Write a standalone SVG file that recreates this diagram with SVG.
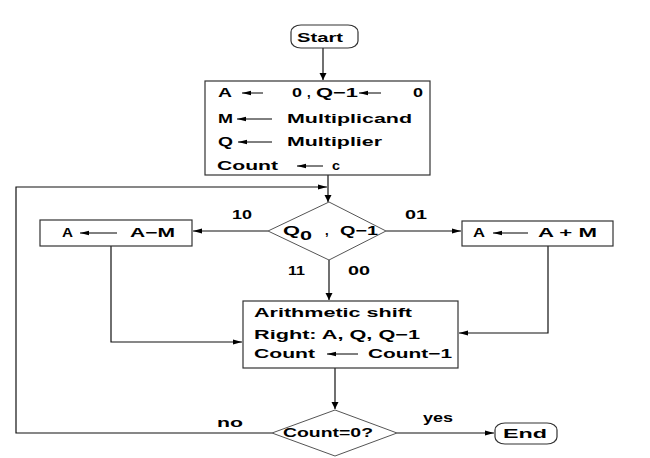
<svg xmlns="http://www.w3.org/2000/svg" width="650" height="458" viewBox="0 0 650 458">
<defs>
<marker id="mh" markerUnits="userSpaceOnUse" markerWidth="10" markerHeight="6" refX="9" refY="3" orient="auto"><path d="M0,0.5 L9,3 L0,5.5 z" fill="#000"/></marker>
<marker id="mv" markerUnits="userSpaceOnUse" markerWidth="8" markerHeight="8" refX="7" refY="3.5" orient="auto"><path d="M0,0 L7,3.5 L0,7 z" fill="#000"/></marker>
<marker id="mt" markerUnits="userSpaceOnUse" markerWidth="10" markerHeight="6" refX="9" refY="2.5" orient="auto"><path d="M0,0.3 L9,2.5 L0,4.7 z" fill="#000"/></marker>
</defs>
<style>
text{font-family:"Liberation Sans",Arial,sans-serif;font-weight:bold;font-size:13px;fill:#000}
.box{fill:#fff;stroke:#333;stroke-width:1.2}
.dia{fill:#fff;stroke:#555;stroke-width:1}
.ln{fill:none;stroke:#111;stroke-width:1.2}
.ta{stroke:#000;stroke-width:1;marker-end:url(#mt)}
</style>
<g id="connectors">
<path class="ln" d="M323,48 V80" marker-end="url(#mv)"/>
<path class="ln" d="M328,175 V202" marker-end="url(#mv)"/>
<path class="ln" d="M272,433 H16 V187 H327" marker-end="url(#mh)"/>
<path class="ln" d="M268,231 H193" marker-end="url(#mh)"/>
<path class="ln" d="M386,231 H461" marker-end="url(#mh)"/>
<path class="ln" d="M329,260 V300" marker-end="url(#mv)"/>
<path class="ln" d="M111,246 V342 H242" marker-end="url(#mh)"/>
<path class="ln" d="M548,246 V333 H459" marker-end="url(#mh)"/>
<path class="ln" d="M335,368 V409" marker-end="url(#mv)"/>
<path class="ln" d="M397,433 H494" marker-end="url(#mh)"/>
<text x="232" y="219" textLength="20" lengthAdjust="spacingAndGlyphs">10</text>
<text x="405" y="219" textLength="22" lengthAdjust="spacingAndGlyphs">01</text>
<text x="288" y="275" textLength="17" lengthAdjust="spacingAndGlyphs">11</text>
<text x="348" y="275" textLength="22" lengthAdjust="spacingAndGlyphs">00</text>
<text x="217" y="427" textLength="26" lengthAdjust="spacingAndGlyphs">no</text>
<text x="423" y="422" textLength="30" lengthAdjust="spacingAndGlyphs">yes</text>
</g>
<g id="start">
<rect class="box" x="291" y="25" width="67" height="23" rx="10" ry="7"/>
<text x="297" y="42" textLength="46" lengthAdjust="spacingAndGlyphs">Start</text>
</g>
<g id="init">
<rect class="box" x="205" y="81" width="225" height="94"/>
<text x="218" y="97" textLength="14" lengthAdjust="spacingAndGlyphs">A</text>
<line class="ta" x1="263" y1="93" x2="242" y2="93"/>
<text x="292" y="97" textLength="10" lengthAdjust="spacingAndGlyphs">0</text>
<text x="307" y="97">,</text>
<text x="316" y="97" textLength="42" lengthAdjust="spacingAndGlyphs">Q−1</text>
<line class="ta" x1="381" y1="93" x2="359" y2="93"/>
<text x="413" y="97" textLength="10" lengthAdjust="spacingAndGlyphs">0</text>
<text x="218" y="123" textLength="15" lengthAdjust="spacingAndGlyphs">M</text>
<line class="ta" x1="272" y1="119" x2="237" y2="119"/>
<text x="287" y="123" textLength="125" lengthAdjust="spacingAndGlyphs">Multiplicand</text>
<text x="218" y="146" textLength="15" lengthAdjust="spacingAndGlyphs">Q</text>
<line class="ta" x1="272" y1="142" x2="238" y2="142"/>
<text x="287" y="146" textLength="95" lengthAdjust="spacingAndGlyphs">Multiplier</text>
<text x="217" y="170" textLength="61" lengthAdjust="spacingAndGlyphs">Count</text>
<line class="ta" x1="323" y1="166" x2="297" y2="166"/>
<text x="332" y="170" textLength="8" lengthAdjust="spacingAndGlyphs">c</text>
</g>
<g id="decision">
<polygon class="dia" points="329,202 386,231 329,260 268,231"/>
<text x="283" y="235" textLength="17" lengthAdjust="spacingAndGlyphs" font-size="14">Q</text>
<text x="300" y="240" textLength="12" lengthAdjust="spacingAndGlyphs" font-size="12">0</text>
<text x="325" y="235" font-size="14">,</text>
<text x="340" y="235" textLength="38" lengthAdjust="spacingAndGlyphs" font-size="14">Q−1</text>
</g>
<g id="sub">
<rect class="box" x="40" y="220" width="152" height="26"/>
<text x="62" y="237" textLength="11" lengthAdjust="spacingAndGlyphs">A</text>
<line class="ta" x1="117" y1="233" x2="80" y2="233"/>
<text x="130" y="237" textLength="45" lengthAdjust="spacingAndGlyphs">A−M</text>
</g>
<g id="add">
<rect class="box" x="462" y="221" width="151" height="25"/>
<text x="473" y="237" textLength="12" lengthAdjust="spacingAndGlyphs">A</text>
<line class="ta" x1="528" y1="233" x2="493" y2="233"/>
<text x="538" y="237" textLength="59" lengthAdjust="spacingAndGlyphs">A + M</text>
</g>
<g id="shift">
<rect class="box" x="243" y="301" width="215" height="67"/>
<text x="254" y="317" textLength="158" lengthAdjust="spacingAndGlyphs">Arithmetic shift</text>
<text x="254" y="339" textLength="166" lengthAdjust="spacingAndGlyphs">Right: A, Q, Q−1</text>
<text x="254" y="358" textLength="61" lengthAdjust="spacingAndGlyphs">Count</text>
<line class="ta" x1="358" y1="354" x2="327" y2="354"/>
<text x="368" y="358" textLength="84" lengthAdjust="spacingAndGlyphs">Count−1</text>
</g>
<g id="check">
<polygon class="dia" points="335,410 397,433 335,456 272,433"/>
<text x="283" y="437" textLength="90" lengthAdjust="spacingAndGlyphs">Count=0?</text>
</g>
<g id="end">
<rect class="box" x="495" y="423" width="62" height="21" rx="10" ry="7"/>
<text x="503" y="438" textLength="44" lengthAdjust="spacingAndGlyphs">End</text>
</g>
</svg>
